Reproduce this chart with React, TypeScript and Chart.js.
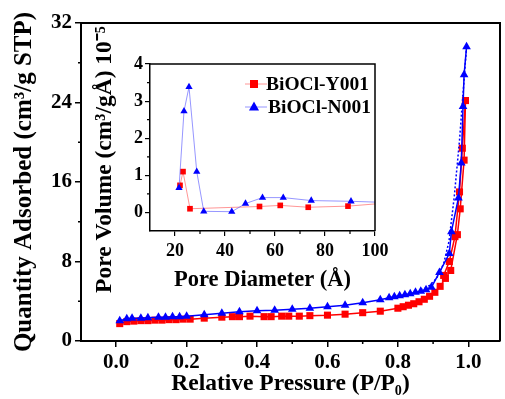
import React, { useEffect, useRef } from "react";
import { Chart, registerables } from "chart.js";

Chart.register(...registerables);

const FONT = "'Liberation Serif', 'Times New Roman', serif";

// ---- Main isotherm data ----
const y001AdsP = [0.01, 0.03, 0.05, 0.07, 0.09, 0.11, 0.13, 0.15, 0.17, 0.19, 0.21, 0.25, 0.3, 0.33, 0.35, 0.38, 0.42, 0.44, 0.47, 0.49, 0.52, 0.55, 0.6, 0.65, 0.7, 0.75, 0.8, 0.815, 0.83, 0.845, 0.86, 0.875, 0.89, 0.905, 0.92, 0.935, 0.95, 0.969, 0.977, 0.988, 0.992];
const y001AdsQ = [1.75, 1.95, 2.0, 2.05, 2.05, 2.1, 2.1, 2.15, 2.15, 2.2, 2.2, 2.3, 2.4, 2.45, 2.45, 2.5, 2.45, 2.45, 2.5, 2.5, 2.5, 2.55, 2.6, 2.7, 2.85, 3.0, 3.3, 3.45, 3.6, 3.75, 3.95, 4.2, 4.5, 4.9, 5.5, 6.3, 7.1, 10.7, 13.3, 18.2, 24.2];
const y001DesP = [0.992, 0.983, 0.975, 0.962, 0.946, 0.93];
const y001DesQ = [24.2, 19.4, 15.0, 10.5, 8.0, 6.6];

const n001AdsP = [0.01, 0.03, 0.045, 0.07, 0.09, 0.12, 0.14, 0.16, 0.18, 0.2, 0.25, 0.3, 0.35, 0.4, 0.45, 0.5, 0.55, 0.6, 0.65, 0.7, 0.75, 0.775, 0.79, 0.805, 0.82, 0.835, 0.85, 0.865, 0.88, 0.895, 0.918, 0.946, 0.952, 0.972, 0.98, 0.985, 0.988, 0.995];
const n001AdsQ = [2.05, 2.25, 2.3, 2.3, 2.35, 2.4, 2.4, 2.45, 2.45, 2.5, 2.65, 2.8, 2.95, 3.05, 3.1, 3.2, 3.3, 3.45, 3.6, 3.85, 4.15, 4.35, 4.45, 4.55, 4.65, 4.75, 4.9, 5.0, 5.15, 5.4, 6.9, 8.8, 11.0, 14.4, 17.9, 23.6, 26.8, 29.6];
const n001DesP = [0.995, 0.975, 0.96, 0.945, 0.93, 0.91, 0.89, 0.87];
const n001DesQ = [29.6, 20.2, 14.5, 10.0, 7.8, 6.3, 5.6, 5.2];

const mainXTicks = [0, 0.2, 0.4, 0.6, 0.8, 1.0];
const mainXMinor = [0.1, 0.3, 0.5, 0.7, 0.9];
const mainYTicks = [0, 8, 16, 24, 32];
const mainYMinor = [4, 12, 20, 28];

// ---- Inset pore size distribution ----
const y001D = [22.0, 23.2, 26.0, 53.8, 62.1, 73.3, 89.2, 104];
const y001V = [0.73, 1.1, 0.1, 0.16, 0.19, 0.14, 0.17, 0.25];
const n001D = [21.6, 23.6, 25.6, 28.7, 31.5, 42.7, 48.2, 55.0, 63.3, 74.5, 90.4, 104];
const n001V = [0.66, 2.73, 3.38, 1.1, 0.03, 0.02, 0.24, 0.4, 0.4, 0.32, 0.3, 0.27];

const insetXTicks = [20, 40, 60, 80, 100];
const insetXMinor = [30, 50, 70, 90];
const insetYTicks = [0, 1, 2, 3, 4];
const insetYMinor = [0.5, 1.5, 2.5, 3.5];

const seriesNames = ["BiOCl-Y001", "BiOCl-N001"];

const RED = "#ff0000";
const BLUE = "#0000ff";

const pts = (xs: number[], ys: number[]) => xs.map((x, i) => ({ x, y: ys[i] }));

const framePlugin = {
  id: "frame",
  afterDraw(chart: any, _args: any, opts: any) {
    const { ctx, chartArea: a, scales } = chart;
    ctx.save();
    ctx.strokeStyle = "#000";
    ctx.lineWidth = opts.lineWidth;
    ctx.beginPath();
    ctx.moveTo(a.left, a.top);
    ctx.lineTo(a.right, a.top);
    ctx.lineTo(a.right, a.bottom);
    ctx.stroke();
    ctx.lineWidth = opts.tickWidth;
    ctx.beginPath();
    (opts.xMinor || []).forEach((v: number) => {
      const px = scales.x.getPixelForValue(v);
      ctx.moveTo(px, a.bottom);
      ctx.lineTo(px, a.bottom + opts.minorLen);
    });
    (opts.yMinor || []).forEach((v: number) => {
      const py = scales.y.getPixelForValue(v);
      ctx.moveTo(a.left, py);
      ctx.lineTo(a.left - opts.minorLen, py);
    });
    ctx.stroke();
    ctx.restore();
  },
};

const insetExtrasPlugin = {
  id: "insetExtras",
  afterDraw(chart: any, _args: any, opts: any) {
    const { ctx, chartArea: a } = chart;
    ctx.save();
    // y title
    ctx.translate(a.left - 45, (a.top + a.bottom) / 2 + 12);
    ctx.rotate(-Math.PI / 2);
    ctx.font = `bold 23.5px ${FONT}`;
    ctx.textAlign = "center";
    ctx.textBaseline = "middle";
    ctx.fillStyle = "#000";
    ctx.fillText(opts.yTitle, 0, 0);
    ctx.restore();

    // legend
    ctx.save();
    const items = opts.items;
    items.forEach((it: any, i: number) => {
      const cy = a.top + 20 + i * 23;
      const x0 = a.left + 95;
      const x1 = a.left + 117;
      const cx = a.left + 104;
      ctx.strokeStyle = it.line;
      ctx.lineWidth = 1;
      ctx.beginPath();
      ctx.moveTo(x0, cy);
      ctx.lineTo(x1, cy);
      ctx.stroke();
      ctx.fillStyle = it.color;
      ctx.beginPath();
      if (it.shape === "rect") {
        ctx.rect(cx - 4, cy - 4, 8, 8);
      } else {
        ctx.moveTo(cx, cy - 5.5);
        ctx.lineTo(cx + 5, cy + 3.5);
        ctx.lineTo(cx - 5, cy + 3.5);
        ctx.closePath();
      }
      ctx.fill();
      ctx.fillStyle = "#000";
      ctx.font = `bold 19.5px ${FONT}`;
      ctx.textAlign = "left";
      ctx.textBaseline = "middle";
      ctx.fillText(it.label, x1 + (i === 0 ? -1 : 1), cy + 1);
    });
    ctx.restore();
  },
};

const tickFont = (size: number) => ({ family: FONT, size, weight: "bold" as const });

export default function App() {
  const mainRef = useRef<HTMLCanvasElement>(null);
  const insetRef = useRef<HTMLCanvasElement>(null);

  useEffect(() => {
    const main = new Chart(mainRef.current!, {
      type: "line",
      data: {
        datasets: [
          {
            label: seriesNames[1] + " des",
            data: pts(n001DesP, n001DesQ),
            borderColor: BLUE,
            borderWidth: 1.5,
            borderDash: [2, 2],
            pointRadius: 0,
            showLine: true,
          },
          {
            label: seriesNames[1],
            data: pts(n001AdsP, n001AdsQ),
            borderColor: BLUE,
            backgroundColor: BLUE,
            borderWidth: 1.5,
            pointStyle: "triangle",
            pointRadius: 5,
            pointBorderWidth: 0,
          },
          {
            label: seriesNames[0] + " des",
            data: pts(y001DesP, y001DesQ),
            borderColor: RED,
            backgroundColor: RED,
            borderWidth: 1.5,
            pointStyle: "rect",
            pointRadius: 5,
            pointBorderWidth: 0,
          },
          {
            label: seriesNames[0],
            data: pts(y001AdsP, y001AdsQ),
            borderColor: RED,
            backgroundColor: RED,
            borderWidth: 1.5,
            pointStyle: "rect",
            pointRadius: 5,
            pointBorderWidth: 0,
          },
        ],
      },
      options: {
        responsive: false,
        animation: false,
        devicePixelRatio: 1,
        layout: { padding: { left: 0, top: 23, right: 2, bottom: 0 } },
        plugins: {
          legend: { display: false },
          tooltip: { enabled: false },
          frame: { lineWidth: 2, tickWidth: 1.5, minorLen: 3, xMinor: mainXMinor, yMinor: mainYMinor },
        } as any,
        scales: {
          x: {
            type: "linear",
            min: -0.1,
            max: 1.09,
            afterBuildTicks: (s: any) => {
              s.ticks = mainXTicks.map((v) => ({ value: v }));
            },
            afterFit: (s: any) => {
              s.height = 58;
            },
            border: { display: true, color: "#000", width: 2 },
            grid: { drawOnChartArea: false, drawTicks: true, tickLength: 6, color: "#000", lineWidth: 1.5 },
            ticks: {
              font: tickFont(21),
              color: "#000",
              padding: 3,
              maxRotation: 0,
              autoSkip: false,
              callback: (v: any) => Number(v).toFixed(1),
            },
            title: {
              display: true,
              text: "Relative Pressure (P/P\u2080)",
              font: tickFont(23.5),
              color: "#000",
              padding: { top: 0, bottom: 1 },
            },
          },
          y: {
            type: "linear",
            min: 0,
            max: 32,
            afterBuildTicks: (s: any) => {
              s.ticks = mainYTicks.map((v) => ({ value: v }));
            },
            afterFit: (s: any) => {
              s.width = 81;
            },
            border: { display: true, color: "#000", width: 2 },
            grid: { drawOnChartArea: false, drawTicks: true, tickLength: 6, color: "#000", lineWidth: 1.5 },
            ticks: {
              font: tickFont(21),
              color: "#000",
              padding: 3,
              autoSkip: false,
              callback: (v: any) => String(v),
            },
            title: {
              display: true,
              text: "Quantity Adsorbed (cm\u00B3/g STP)",
              font: tickFont(25),
              color: "#000",
              padding: { top: 10, bottom: 0 },
            },
          },
        },
      },
      plugins: [framePlugin],
    } as any);

    const inset = new Chart(insetRef.current!, {
      type: "line",
      data: {
        datasets: [
          {
            label: seriesNames[1],
            data: pts(n001D, n001V),
            borderColor: "rgba(80,80,255,0.6)",
            backgroundColor: BLUE,
            borderWidth: 1,
            pointStyle: "triangle",
            pointRadius: 4.2,
            pointBorderWidth: 0,
          },
          {
            label: seriesNames[0],
            data: pts(y001D, y001V),
            borderColor: "rgba(255,80,80,0.6)",
            backgroundColor: RED,
            borderWidth: 1,
            pointStyle: "rect",
            pointRadius: 4,
            pointBorderWidth: 0,
          },
        ],
      },
      options: {
        responsive: false,
        animation: false,
        devicePixelRatio: 1,
        layout: { padding: { left: 100, top: 64, right: 130, bottom: 106 } },
        plugins: {
          legend: { display: false },
          tooltip: { enabled: false },
          frame: { lineWidth: 1.5, tickWidth: 1.2, minorLen: 3, xMinor: insetXMinor, yMinor: insetYMinor },
          insetExtras: {
            yTitle: "Pore Volume (cm\u00B3/g\u00C5) 10\u207B\u2075",
            items: [
              { label: seriesNames[0], color: RED, line: "rgba(255,80,80,0.6)", shape: "rect" },
              { label: seriesNames[1], color: BLUE, line: "rgba(80,80,255,0.6)", shape: "triangle" },
            ],
          },
        } as any,
        scales: {
          x: {
            type: "linear",
            min: 10,
            max: 100,
            afterBuildTicks: (s: any) => {
              s.ticks = insetXTicks.map((v) => ({ value: v }));
            },
            afterFit: (s: any) => {
              s.height = 62;
            },
            border: { display: true, color: "#000", width: 1.5 },
            grid: { drawOnChartArea: false, drawTicks: true, tickLength: 5, color: "#000", lineWidth: 1.2 },
            ticks: {
              font: tickFont(18),
              color: "#000",
              padding: 5,
              maxRotation: 0,
              autoSkip: false,
              callback: (v: any) => String(v),
            },
            title: {
              display: true,
              text: "Pore Diameter (\u00C5)",
              font: tickFont(22.5),
              color: "#000",
              padding: { top: 0, bottom: -1 },
            },
          },
          y: {
            type: "linear",
            min: -0.5,
            max: 4,
            afterBuildTicks: (s: any) => {
              s.ticks = insetYTicks.map((v) => ({ value: v }));
            },
            afterFit: (s: any) => {
              s.width = 50;
            },
            border: { display: true, color: "#000", width: 1.5 },
            grid: { drawOnChartArea: false, drawTicks: true, tickLength: 5, color: "#000", lineWidth: 1.2 },
            ticks: {
              font: tickFont(18),
              color: "#000",
              padding: 2,
              autoSkip: false,
              callback: (v: any) => String(v),
            },
          },
        },
      },
      plugins: [framePlugin, insetExtrasPlugin],
    } as any);

    return () => {
      main.destroy();
      inset.destroy();
    };
  }, []);

  return (
    <div style={{ position: "fixed", left: 0, top: 0, width: 505, height: 399, background: "#fff" }}>
      <canvas ref={mainRef} width={505} height={399} style={{ position: "absolute", left: 0, top: 0 }} />
      <canvas ref={insetRef} width={505} height={399} style={{ position: "absolute", left: 0, top: 0 }} />
    </div>
  );
}
